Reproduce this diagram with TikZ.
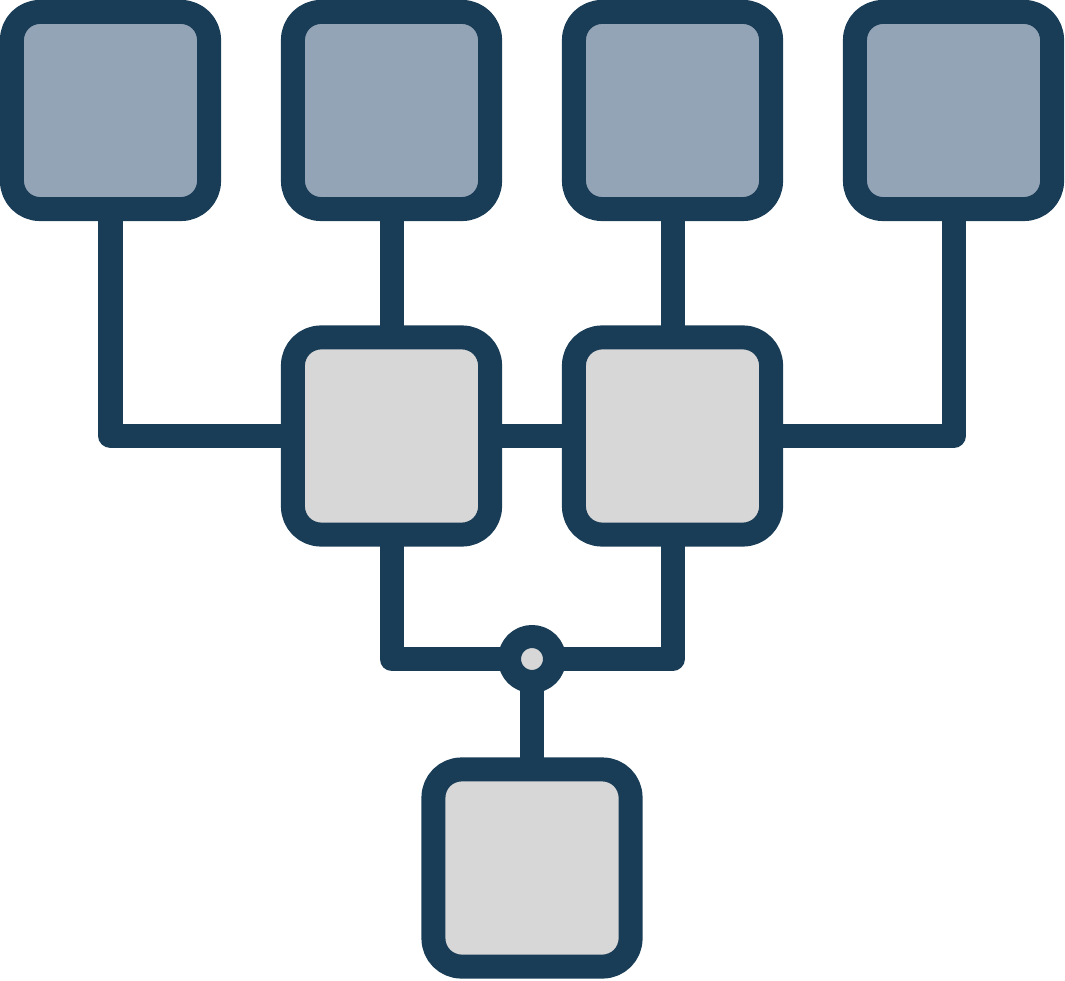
\documentclass[tikz,border=0pt]{standalone}
\usepackage{tikz}
\usepgflibrary{shapes}
\definecolor{ink}{HTML}{1A3D57}
\definecolor{slate}{HTML}{94A4B7}
\definecolor{pale}{HTML}{D7D7D7}
\begin{document}
\begin{tikzpicture}[x=0.01cm, y=-0.01cm, line width=0.24cm, line join=round,
    leaf/.style={rectangle, rounded corners=0.28cm, minimum size=1.97cm, inner sep=0pt, outer sep=0pt, draw=ink, fill=slate},
    merge/.style={rectangle, rounded corners=0.28cm, minimum size=1.97cm, inner sep=0pt, outer sep=0pt, draw=ink, fill=pale}]
      \useasboundingbox (0,0) rectangle (1065,980);
      \node[name=t1, leaf] at (110.5,110.5){};
      \node[name=t2, leaf] at (391.5,110.5){};
      \node[name=t3, leaf] at (672.5,110.5){};
      \node[name=t4, leaf] at (953.5,110.5){};
      \node[name=m1, merge] at (391.5,436){};
      \node[name=m2, merge] at (672.5,436){};
      \node[name=b, merge] at (532,868){};
      \node[name=j, circle, minimum size=0.45cm, inner sep=0pt, outer sep=0pt, draw=ink, line width=0.23cm, fill=pale] at (532,659){};
      \draw[ink] (t1.south) |- (m1.west);
      \draw[ink] (t2.south) -- (m1.north);
      \draw[ink] (t3.south) -- (m2.north);
      \draw[ink] (t4.south) |- (m2.east);
      \draw[ink] (m1.east) -- (m2.west);
      \draw[ink] (m1.south) |- (j.west);
      \draw[ink] (m2.south) |- (j.east);
      \draw[ink] (j.south) -- (b.north);
   \end{tikzpicture}
\end{document}
